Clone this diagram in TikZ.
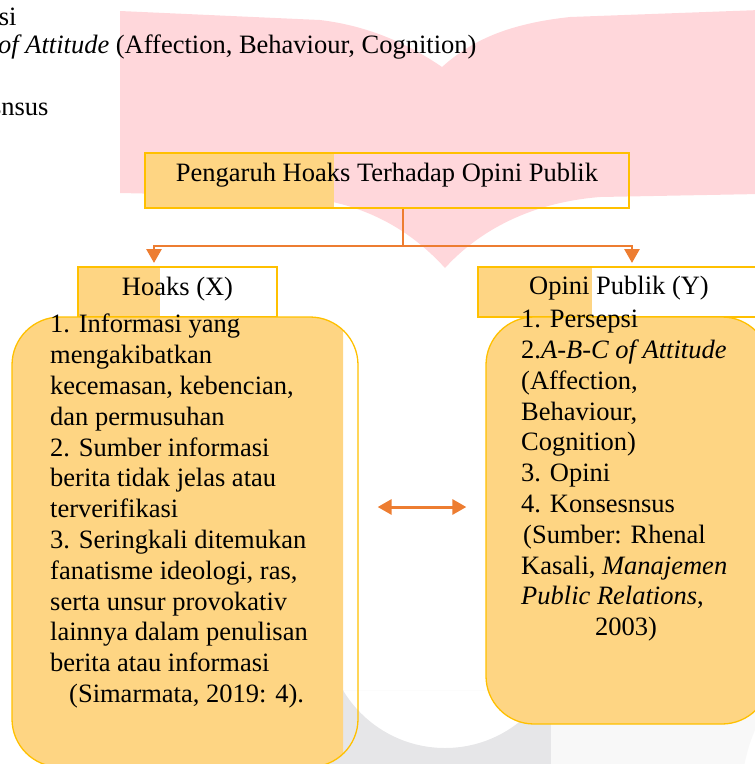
\documentclass[tikz,border=0pt]{standalone}
\usepackage{fontspec}
\setmainfont{Liberation Serif}
\usetikzlibrary{arrows.meta,positioning}
\definecolor{emas}{HTML}{FFC000}
\definecolor{oranye}{HTML}{FED583}
\definecolor{jingga}{HTML}{ED7D31}
\definecolor{merahmuda}{HTML}{FFD7DB}
\definecolor{abu}{HTML}{E6E6E8}
\definecolor{abumuda}{HTML}{F8F8F8}
\newcommand{\teksbesar}{\fontsize{26.5}{30.8}\selectfont}

\begin{document}
\begin{tikzpicture}[x=1pt,y=-1pt,>={Triangle[width=15pt,length=14pt]},font=\teksbesar]
		\tikzstyle{kotak}=[draw=emas,line width=1.3pt,inner sep=0pt]
		\tikzstyle{bulat}=[kotak,rounded corners=48pt]
		\tikzstyle{garis}=[draw=jingga,line width=2.8pt]
		\tikzstyle{isi}=[anchor=north west,inner sep=0pt,align=left]

		\useasboundingbox (0,0) rectangle (755,764);
		\clip (0,0) rectangle (755,764);

		% latar halaman
		\fill[merahmuda] (120,11) -- (320,20) .. controls (370,26) and (410,45) .. (442,67)
			.. controls (470,42) and (505,24) .. (570,17) -- (760,10) -- (760,194)
			-- (600,197) .. controls (525,203) and (475,235) .. (445,268)
			.. controls (415,235) and (370,203) .. (300,197) -- (120,193) -- cycle;
		\begin{scope}
			\clip (330,690) rectangle (551,770);
			\fill[abu,even odd rule] (330,690) rectangle (551,770) (445,629) circle (119);
		\end{scope}
		\fill[abumuda] (551,700) -- (770,700) -- (755,730) .. controls (749,745) .. (743,770) -- (551,770) -- cycle;

		% sisa teks halaman
		\node[anchor=base east] (sisa1) at (20,25) {1. Persepsi};
		\node[anchor=base east] (sisa2) at (480,53) {2. \textit{A-B-C of Attitude} (Affection, Behaviour, Cognition)};
		\node[anchor=base east] (sisa4) at (52,115) {4. Konsesnsus};

		% judul
		\fill[oranye] (145,153) rectangle (334,208);
		\node[kotak,minimum width=484pt,minimum height=55pt,text height=18pt,text depth=16pt] (judul) at (387,180.5) {Pengaruh Hoaks Terhadap Opini Publik};

		% variabel X
		\fill[oranye] (78,267) rectangle (160,317);
		\node[kotak,minimum width=199pt,minimum height=50pt,text height=18pt,text depth=12pt] (hoaks) at (177.5,292) {Hoaks (X)};
		\begin{scope}
			\clip (0,0) rectangle (343,764);
			\fill[oranye,rounded corners=48pt] (12,317) rectangle (358,767);
		\end{scope}
		\node[bulat,minimum width=346pt,minimum height=450pt] (kotakX) at (185,542) {};
		\node[isi] (teksX) at (50,314) {1. Informasi yang\\mengakibatkan\\kecemasan, kebencian,\\dan permusuhan\\2. Sumber informasi\\berita tidak jelas atau\\terverifikasi\\3. Seringkali ditemukan\\fanatisme ideologi, ras,\\serta unsur provokativ\\lainnya dalam penulisan\\berita atau informasi\\\hspace*{19pt}(Simarmata, 2019: 4).};

		% variabel Y
		\fill[oranye] (478,267) rectangle (592,317);
		\node[kotak,minimum width=282pt,minimum height=50pt,text height=18pt,text depth=14pt] (opini) at (619,292) {Opini Publik (Y)};
		\node[bulat,fill=oranye,minimum width=284pt,minimum height=407pt] (kotakY) at (628,520.5) {};
		\node[isi] (teksY) at (521,310) {1. Persepsi\\2.\textit{A-B-C of Attitude}\\(Affection,\\Behaviour,\\Cognition)\\3. Opini\\4. Konsesnsus\\\hspace*{2pt}(Sumber: Rhenal\\Kasali, \textit{Manajemen}\\\textit{Public Relations},\\\hspace*{74pt}2003)};

		% penghubung
		\coordinate (cabang) at (403,246);
		\coordinate (ujungX) at (154,263);
		\coordinate (ujungY) at (632,263);
		\coordinate (panah) at (422,507);
		\draw[garis] (judul.south -| cabang) -- (cabang);
		\draw[garis,->] (cabang) -| (ujungX);
		\draw[garis,->] (cabang) -| (ujungY);
		\draw[garis,<->,line width=3pt,shorten >=19pt,shorten <=19pt] (kotakX.east |- panah) -- (kotakY.west |- panah);
	\end{tikzpicture}
\end{document}
